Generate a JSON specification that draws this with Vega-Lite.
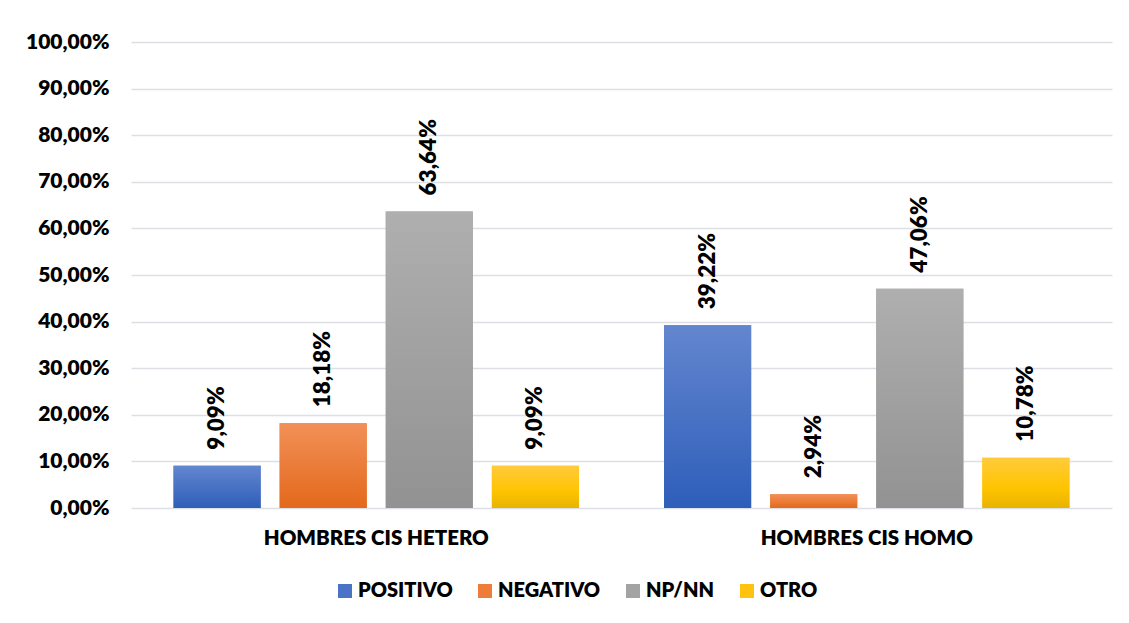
{
  "$schema": "https://vega.github.io/schema/vega-lite/v6.json",
  "autosize": "none",
  "width": 981,
  "height": 466,
  "padding": {"left": 131, "top": 42, "right": 17, "bottom": 115},
  "background": "#ffffff",
  "config": {
    "locale": {"number": {"decimal": ",", "thousands": ".", "grouping": [3], "currency": ["", " €"]}},
    "font": "Lato",
    "view": {"stroke": null},
    "axis": {"labelFont": "Lato", "labelFontWeight": 800, "labelFontSize": 21, "labelColor": "#000000", "title": null, "labelLimit": 0}
  },
  "data": {
    "values": [
      {"grupo": "HOMBRES CIS HETERO", "respuesta": "POSITIVO", "valor": 0.0909},
      {"grupo": "HOMBRES CIS HETERO", "respuesta": "NEGATIVO", "valor": 0.1818},
      {"grupo": "HOMBRES CIS HETERO", "respuesta": "NP/NN", "valor": 0.6364},
      {"grupo": "HOMBRES CIS HETERO", "respuesta": "OTRO", "valor": 0.0909},
      {"grupo": "HOMBRES CIS HOMO", "respuesta": "POSITIVO", "valor": 0.3922},
      {"grupo": "HOMBRES CIS HOMO", "respuesta": "NEGATIVO", "valor": 0.0294},
      {"grupo": "HOMBRES CIS HOMO", "respuesta": "NP/NN", "valor": 0.4706},
      {"grupo": "HOMBRES CIS HOMO", "respuesta": "OTRO", "valor": 0.1078}
    ]
  },
  "encoding": {
    "x": {
      "field": "grupo", "type": "nominal",
      "scale": {"paddingInner": 0, "paddingOuter": 0},
      "axis": {"labelAngle": 0, "labelPadding": 20, "labelFontSize": 20.5, "ticks": false, "domain": false, "grid": false}
    },
    "xOffset": {
      "field": "respuesta", "type": "nominal",
      "scale": {"domain": ["POSITIVO", "NEGATIVO", "NP/NN", "OTRO"], "paddingInner": 0.179, "paddingOuter": 0.401}
    },
    "y": {
      "field": "valor", "type": "quantitative",
      "scale": {"domain": [0, 1]},
      "axis": {
        "values": [0, 0.1, 0.2, 0.3, 0.4, 0.5, 0.6, 0.7, 0.8, 0.9, 1],
        "format": ".2%", "ticks": false, "domain": false,
        "gridColor": "#DCE0E5", "gridWidth": 1.5, "labelPadding": 22
      }
    }
  },
  "layer": [
    {
      "mark": {"type": "bar"},
      "encoding": {
        "color": {
          "field": "respuesta", "type": "nominal",
          "scale": {
            "domain": ["POSITIVO", "NEGATIVO", "NP/NN", "OTRO"],
            "range": ["#4A72C6", "#EE7D39", "#A3A3A3", "#FFC20E"]
          },
          "legend": {
            "title": null, "orient": "none", "direction": "horizontal",
            "legendX": 204, "legendY": 539,
            "symbolType": "square", "symbolSize": 196, "symbolStrokeWidth": 0,
            "labelFont": "Lato", "labelFontWeight": 800, "labelFontSize": 20, "labelColor": "#000000",
            "labelOffset": 3, "columnPadding": 22
          }
        }
      }
    },
    {
      "transform": [{"filter": "datum.respuesta === 'POSITIVO'"}],
      "mark": {"type": "bar", "color": {"gradient": "linear", "x1": 0, "y1": 0, "x2": 0, "y2": 1, "stops": [{"offset": 0, "color": "#6386CF"}, {"offset": 1, "color": "#2E5EB9"}]}}
    },
    {
      "transform": [{"filter": "datum.respuesta === 'NEGATIVO'"}],
      "mark": {"type": "bar", "color": {"gradient": "linear", "x1": 0, "y1": 0, "x2": 0, "y2": 1, "stops": [{"offset": 0, "color": "#F29058"}, {"offset": 1, "color": "#E3691B"}]}}
    },
    {
      "transform": [{"filter": "datum.respuesta === 'NP/NN'"}],
      "mark": {"type": "bar", "color": {"gradient": "linear", "x1": 0, "y1": 0, "x2": 0, "y2": 1, "stops": [{"offset": 0, "color": "#AFAFAF"}, {"offset": 1, "color": "#929292"}]}}
    },
    {
      "transform": [{"filter": "datum.respuesta === 'OTRO'"}],
      "mark": {"type": "bar", "color": {"gradient": "linear", "x1": 0, "y1": 0, "x2": 0, "y2": 1, "stops": [{"offset": 0, "color": "#FFCB3C"}, {"offset": 0.6, "color": "#FFC400"}, {"offset": 1, "color": "#E8B300"}]}}
    },
    {
      "mark": {"type": "text", "angle": -90, "align": "left", "baseline": "middle", "dx": 16, "font": "Lato", "fontWeight": 800, "fontSize": 22.5, "color": "#000000"},
      "encoding": {
        "text": {"field": "valor", "type": "quantitative", "format": ".2%"}
      }
    }
  ]
}
